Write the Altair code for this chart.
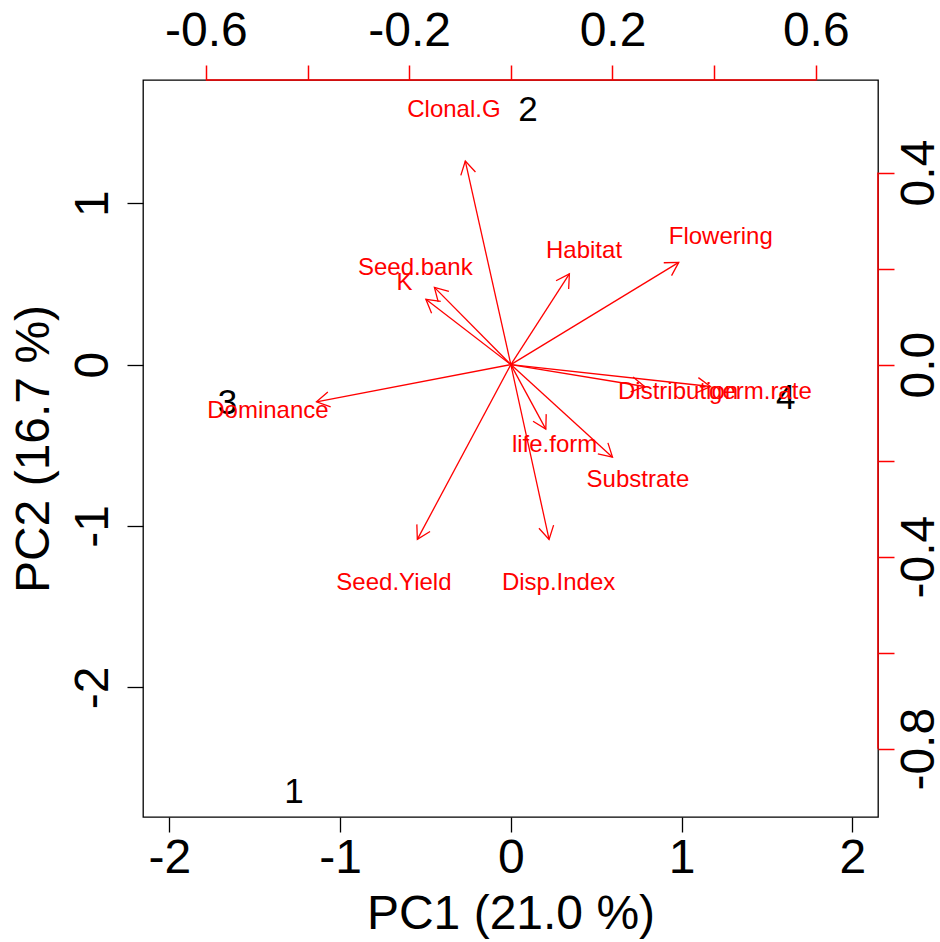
import math

import altair as alt
import pandas as pd

FONT = "Liberation Sans"

# Sample scores on the first two principal components
sample_ids = ["1", "2", "3", "4"]
pc1_scores = [-1.27, 0.10, -1.66, 1.61]
pc2_scores = [-2.65, 1.58, -0.24, -0.21]

# Variable loadings (label positions; arrows are drawn to 0.8 of these)
var_names = ["Clonal.G", "Habitat", "Flowering", "Seed.bank", "K", "Dominance",
             "Distribution", "germ.rate", "life.form", "Substrate", "Seed.Yield",
             "Disp.Index"]
load_pc1 = [-0.112, 0.144, 0.413, -0.188, -0.209, -0.478,
            0.329, 0.491, 0.086, 0.250, -0.230, 0.094]
load_pc2 = [0.530, 0.236, 0.266, 0.201, 0.170, -0.097,
            -0.057, -0.057, -0.168, -0.241, -0.455, -0.455]

# Axis tick values
bottom_ticks = [-2, -1, 0, 1, 2]
left_ticks = [-2, -1, 0, 1]
top_ticks = [-0.6, -0.4, -0.2, 0.0, 0.2, 0.4, 0.6]
right_ticks = [-0.8, -0.6, -0.4, -0.2, 0.0, 0.2, 0.4]

# Plot limits: scores, and loadings on the same frame divided by the biplot ratio
score_x_domain = [-2.154, 2.150]
score_y_domain = [-2.804, 1.764]
ratio = 2.976
load_x_domain = [v / ratio for v in score_x_domain]
load_y_domain = [v / ratio for v in score_y_domain]

W, H = 735, 737
ARROW_FRACTION = 0.8

# ---- data tables -------------------------------------------------------
scores = pd.DataFrame({"id": sample_ids, "pc1": pc1_scores, "pc2": pc2_scores})

px_x = W / (load_x_domain[1] - load_x_domain[0])
px_y = H / (load_y_domain[1] - load_y_domain[0])
loads = pd.DataFrame({"name": var_names, "lx": load_pc1, "ly": load_pc2})
loads["tx"] = loads["lx"] * ARROW_FRACTION
loads["ty"] = loads["ly"] * ARROW_FRACTION
loads["zero"] = 0.0
# clockwise compass heading of each arrow on screen, for rotating the head
loads["heading"] = [
    math.degrees(math.atan2(x * px_x, y * px_y)) % 360
    for x, y in zip(loads["tx"], loads["ty"])
]

# red axis lines of the loading axes (span first to last tick)
axis_lines = pd.DataFrame({
    "x": [min(top_ticks), load_x_domain[1]],
    "x2": [max(top_ticks), load_x_domain[1]],
    "y": [load_y_domain[1], min(right_ticks)],
    "y2": [load_y_domain[1], max(right_ticks)],
})

# ---- scales and axes ---------------------------------------------------
sx = alt.Scale(domain=score_x_domain, nice=False, zero=False)
sy = alt.Scale(domain=score_y_domain, nice=False, zero=False)
lxs = alt.Scale(domain=load_x_domain, nice=False, zero=False)
lys = alt.Scale(domain=load_y_domain, nice=False, zero=False)

int_label = "(datum.value < 0 ? '-' : '') + format(abs(datum.value), 'd')"

bottom_axis = alt.Axis(
    orient="bottom", values=bottom_ticks, domain=False, grid=False,
    tickColor="black", tickWidth=1.3, tickSize=15,
    labelExpr=int_label, labelFontSize=48, labelColor="black",
    labelPadding=2, labelBaseline="top", labelAlign="center",
    labelFlush=False, labelOverlap=False,
    title="PC1 (21.0 %)", titleFontSize=48, titleFontWeight="normal",
    titleColor="black", titleBaseline="alphabetic", titleY=111,
)
left_axis = alt.Axis(
    orient="left", values=left_ticks, domain=False, grid=False,
    tickColor="black", tickWidth=1.3, tickSize=16,
    labelExpr=int_label, labelFontSize=48, labelColor="black",
    labelAngle=270, labelPadding=20, labelBaseline="alphabetic",
    labelAlign="center", labelFlush=False, labelOverlap=False,
    title="PC2 (16.7 %)", titleFontSize=48, titleFontWeight="normal",
    titleColor="black", titleAngle=270, titleBaseline="alphabetic", titleX=-95,
)
top_axis = alt.Axis(
    orient="top", values=top_ticks, domain=False, grid=False,
    tickColor="red", tickWidth=1.5, tickSize=15,
    labelExpr="abs(round(datum.value * 10)) % 4 == 2 ? "
              "(datum.value < 0 ? '-' : '') + format(abs(datum.value), '.1f') : ''",
    labelFontSize=48, labelColor="black", labelPadding=20,
    labelBaseline="alphabetic", labelAlign="center",
    labelFlush=False, labelOverlap=False, title=None,
)
right_axis = alt.Axis(
    orient="right", values=right_ticks, domain=False, grid=False,
    tickColor="red", tickWidth=1.5, tickSize=16,
    labelExpr="abs(round(datum.value * 10)) % 4 == 0 ? "
              "(datum.value < -0.01 ? '-' : '') + format(abs(datum.value), '.1f') : ''",
    labelFontSize=48, labelColor="black", labelAngle=270, labelPadding=1,
    labelBaseline="top", labelAlign="center",
    labelFlush=False, labelOverlap=False, title=None,
)

# ---- score layer -------------------------------------------------------
score_layer = alt.Chart(scores).mark_text(
    font=FONT, fontSize=35, color="black", align="center", baseline="middle"
).encode(
    x=alt.X("pc1:Q", scale=sx, axis=bottom_axis),
    y=alt.Y("pc2:Q", scale=sy, axis=left_axis),
    text="id:N",
)

# ---- loading layer -----------------------------------------------------
base = alt.Chart(loads)

shafts = base.mark_rule(color="#FF0000", strokeWidth=1.3).encode(
    x=alt.X("zero:Q", scale=lxs, axis=top_axis),
    x2="tx:Q",
    y=alt.Y("zero:Q", scale=lys, axis=right_axis),
    y2="ty:Q",
)

heads = base.mark_point(
    shape="M -0.5 0.866 L 0 0 L 0.5 0.866", filled=False, size=900,
    color="#FF0000", strokeWidth=1.3, opacity=1,
).encode(
    x=alt.X("tx:Q", scale=lxs, axis=top_axis),
    y=alt.Y("ty:Q", scale=lys, axis=right_axis),
    angle=alt.Angle("heading:Q", scale=None),
)

labels = base.mark_text(
    font=FONT, fontSize=24, color="#FF0000", align="center", baseline="middle"
).encode(
    x=alt.X("lx:Q", scale=lxs, axis=top_axis),
    y=alt.Y("ly:Q", scale=lys, axis=right_axis),
    text="name:N",
)

red_axes = alt.Chart(axis_lines).mark_rule(color="#FF0000", strokeWidth=1.5).encode(
    x=alt.X("x:Q", scale=lxs, axis=top_axis),
    x2="x2:Q",
    y=alt.Y("y:Q", scale=lys, axis=right_axis),
    y2="y2:Q",
)

loading_layer = alt.layer(shafts, heads, labels, red_axes)

chart = alt.layer(score_layer, loading_layer).resolve_scale(
    x="independent", y="independent"
).properties(
    width=W,
    height=H,
    autosize=alt.AutoSizeParams(type="none"),
    padding={"left": 143, "top": 80, "right": 62, "bottom": 125},
    background="white",
).configure_view(
    stroke="black", strokeWidth=1.3
).configure_axis(
    labelFont=FONT, titleFont=FONT
)

chart.save("out.html", embed_options={"renderer": "svg", "actions": False})
